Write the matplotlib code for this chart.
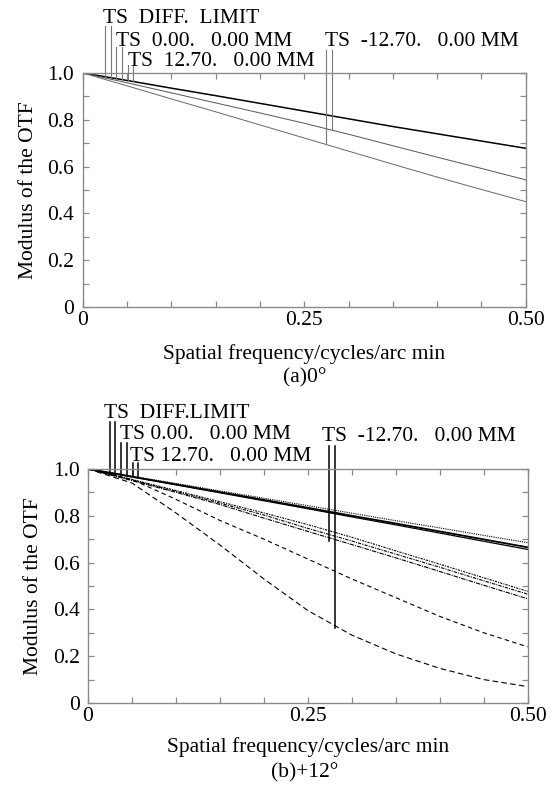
import matplotlib
matplotlib.use("Agg")
import matplotlib.pyplot as plt
import numpy as np

plt.rcParams['font.family'] = ['Liberation Serif', 'DejaVu Serif']

# ---------------- data ----------------
freq = [0.0, 0.05, 0.10, 0.15, 0.20, 0.25, 0.30, 0.35, 0.40, 0.45, 0.50]

# (a) 0 deg
a_diff = [1.0, 0.968, 0.935, 0.903, 0.870, 0.837, 0.804, 0.771, 0.740, 0.709, 0.678]
a_f1 = [1.0, 0.958, 0.915, 0.872, 0.829, 0.785, 0.738, 0.689, 0.640, 0.592, 0.543]
a_f2 = [1.0, 0.945, 0.889, 0.834, 0.778, 0.722, 0.666, 0.610, 0.555, 0.502, 0.450]

# (b) +12 deg
b_dot = [1.0, 0.969, 0.938, 0.906, 0.875, 0.843, 0.811, 0.779, 0.748, 0.716, 0.685]
b_diff = [1.0, 0.967, 0.934, 0.901, 0.868, 0.834, 0.800, 0.767, 0.733, 0.699, 0.665]
b_s0 = [1.0, 0.966, 0.932, 0.898, 0.864, 0.830, 0.795, 0.761, 0.726, 0.691, 0.656]
b_m1 = [1.0, 0.955, 0.908, 0.860, 0.812, 0.762, 0.708, 0.650, 0.593, 0.535, 0.477]
b_m2 = [1.0, 0.953, 0.904, 0.854, 0.803, 0.746, 0.692, 0.636, 0.580, 0.522, 0.465]
b_m3 = [1.0, 0.950, 0.900, 0.848, 0.790, 0.733, 0.677, 0.620, 0.562, 0.503, 0.445]
b_d1 = [1.0, 0.955, 0.870, 0.780, 0.700, 0.615, 0.530, 0.450, 0.370, 0.300, 0.240]
b_d2 = [1.0, 0.940, 0.812, 0.675, 0.530, 0.395, 0.290, 0.210, 0.148, 0.100, 0.070]

# legend marker lines (x position, top y, curve value at bottom)
a_mark_x = [0.0253, 0.0321, 0.0376, 0.0444, 0.0511, 0.0568, 0.2746, 0.2814]
a_mark_top = [1.20, 1.20, 1.112, 1.112, 1.034, 1.034, 1.098, 1.098]
a_mark_end = [0.984, 0.980, 0.977, 0.972, 0.970, 0.966, 0.697, 0.760]

b_mark_x = [0.025, 0.031, 0.037, 0.044, 0.051, 0.057, 0.2745, 0.281]
b_mark_top = [1.202, 1.202, 1.11, 1.11, 1.024, 1.024, 1.10, 1.10]
b_mark_end = [0.984, 0.980, 0.976, 0.972, 0.968, 0.964, 0.694, 0.320]

a_labels = ["TS  DIFF.  LIMIT", "TS  0.00.   0.00 MM", "TS  12.70.   0.00 MM", "TS  -12.70.   0.00 MM"]
a_label_pos = [(0.0226, 1.212), (0.0376, 1.114), (0.051, 1.028), (0.2735, 1.114)]
b_labels = ["TS  DIFF.LIMIT", "TS 0.00.   0.00 MM", "TS 12.70.   0.00 MM", "TS  -12.70.   0.00 MM"]
b_label_pos = [(0.018, 1.217), (0.0364, 1.127), (0.0478, 1.035), (0.266, 1.12)]

xticks_major = [0, 0.25, 0.5]
xtick_labels = ["0", "0.25", "0.50"]
yticks_major = [0, 0.2, 0.4, 0.6, 0.8, 1.0]
ytick_labels = ["0", "0.2", "0.4", "0.6", "0.8", "1.0"]

FS = 15.5
fig = plt.figure(figsize=(5.56, 7.92), dpi=100)

ax1 = fig.add_axes([0.1487, 0.6124, 0.797, 0.2955])
ax2 = fig.add_axes([0.1583, 0.1124, 0.7908, 0.2955])


def style(ax, xpad):
    ax.set_xlim(0, 0.5)
    ax.set_ylim(0, 1.0)
    for s in ax.spines.values():
        s.set_color('#8a8a8a')
        s.set_linewidth(1.0)
    ax.set_xticks(np.arange(0, 0.5001, 0.05), minor=True)
    ax.set_yticks(np.arange(0, 1.0001, 0.1), minor=True)
    ax.set_xticks(xticks_major)
    ax.set_xticklabels(xtick_labels, fontsize=FS)
    ax.set_yticks(yticks_major)
    ax.set_yticklabels(ytick_labels, fontsize=FS)
    ax.tick_params(which='both', direction='in', top=True, right=True,
                   length=4.5, width=0.9, color='#8a8a8a')
    ax.tick_params(axis='x', which='major', pad=3)
    ax.tick_params(axis='y', which='major', pad=6)
    ax.set_xlabel("Spatial frequency/cycles/arc min", fontsize=FS, labelpad=xpad)
    ax.set_ylabel("Modulus of the OTF", fontsize=FS, labelpad=7)


style(ax1, 10)
style(ax2, 8)

# (a)
ax1.plot(freq, a_diff, color='black', lw=1.1)
ax1.plot(freq, a_f1, color='#555555', lw=0.7)
ax1.plot(freq, a_f2, color='#666666', lw=0.7)
for x, t, e in zip(a_mark_x, a_mark_top, a_mark_end):
    ax1.plot([x, x], [e, t], color='#777777', lw=0.8, clip_on=False)
for s, (x, y) in zip(a_labels, a_label_pos):
    ax1.text(x, y, s, fontsize=FS, va='baseline', ha='left', clip_on=False)

# (b)
ax2.plot(freq, b_dot, color='black', lw=0.8, ls=(0, (1, 1)))
ax2.plot(freq, b_diff, color='black', lw=1.3)
ax2.plot(freq, b_s0, color='black', lw=0.9)
ax2.plot(freq, b_m1, color='black', lw=0.8, ls=(0, (2, 1, 1, 1)))
ax2.plot(freq, b_m2, color='black', lw=0.8, ls=(0, (3, 1, 1, 1)))
ax2.plot(freq, b_m3, color='black', lw=0.8, ls=(0, (4, 1, 1, 1)))
ax2.plot(freq, b_d1, color='black', lw=0.8, ls=(0, (4, 3)))
ax2.plot(freq, b_d2, color='black', lw=0.8, ls=(0, (5, 3)))
for x, t, e in zip(b_mark_x, b_mark_top, b_mark_end):
    ax2.plot([x, x], [e, t], color='black', lw=1.1, clip_on=False)
for s, (x, y) in zip(b_labels, b_label_pos):
    ax2.text(x, y, s, fontsize=FS, va='baseline', ha='left', clip_on=False)

fig.text(0.5486, 1 - 378 / 792, "(a)0°", fontsize=FS, ha='center', va='center')
fig.text(0.5486, 1 - 773 / 792, "(b)+12°", fontsize=FS, ha='center', va='center')

fig.savefig("out.png", dpi=100)
